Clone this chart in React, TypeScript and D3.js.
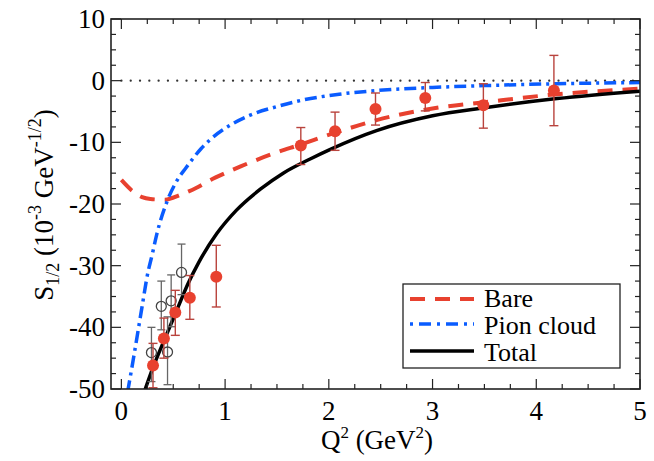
import React from "react";
import { scaleLinear, line, curveMonotoneX, range } from "d3";

// curves
const bareQ2 = [0, 0.1, 0.2, 0.28, 0.42, 0.57, 0.72, 0.86, 1.0, 1.15, 1.47, 1.72, 2.07, 2.46, 3.0, 3.5, 4.2, 5.0];
const bareS = [-16.1, -17.8, -18.9, -19.2, -19.3, -18.5, -17.4, -16.1, -15.0, -13.9, -11.8, -10.4, -8.4, -6.4, -4.5, -3.5, -2.2, -1.3];

const pionQ2 = [0.06, 0.12, 0.2, 0.25, 0.3, 0.34, 0.44, 0.54, 0.62, 0.77, 0.86, 1.05, 1.24, 1.5, 1.76, 2.1, 2.46, 3.0, 3.5, 4.2, 5.0];
const pionS = [-50.5, -44.7, -36.6, -31.6, -28.0, -25.0, -19.6, -16.1, -14.2, -11.0, -9.5, -7.2, -5.6, -4.2, -3.1, -2.2, -1.6, -1.1, -0.8, -0.5, -0.3];

const totalQ2 = [0.22, 0.31, 0.42, 0.54, 0.64, 0.745, 0.92, 1.11, 1.34, 1.56, 1.82, 2.02, 2.46, 3.0, 3.5, 4.2, 5.0];
const totalS = [-50.5, -46.3, -41.8, -37.0, -33.0, -29.5, -24.8, -21.0, -17.6, -15.0, -12.7, -11.1, -8.1, -5.7, -4.4, -2.9, -1.7];

// filled red points with error bars
const redQ2 = [0.305, 0.41, 0.52, 0.66, 0.915, 1.73, 2.06, 2.45, 2.93, 3.49, 4.17];
const redS = [-46.2, -41.8, -37.6, -35.2, -31.8, -10.5, -8.2, -4.6, -2.8, -4.0, -1.6];
const redHi = [-42.6, -38.5, -34.0, -31.6, -26.7, -7.6, -5.1, -2.0, -0.3, -0.5, 4.1];
const redLo = [-49.8, -45.0, -41.3, -38.7, -36.7, -13.6, -11.3, -7.2, -4.9, -7.7, -7.3];

// open circles
const openQ2 = [0.29, 0.385, 0.445, 0.48, 0.58];
const openS = [-44.1, -36.6, -44.0, -35.7, -31.1];
const openHi = [-40.0, -32.5, -38.3, -31.5, -26.5];
const openLo = [-48.8, -40.4, -49.3, -39.9, -34.7];

const xTicks = [0, 1, 2, 3, 4, 5];
const yTicks = [10, 0, -10, -20, -30, -40, -50];

const W = 654;
const H = 461;
const L = 111, R = 640, T = 19, B = 389;
const FONT = "Liberation Serif, Times New Roman, DejaVu Serif, serif";

const RED = "#e8412f";
const ERR_RED = "#b9433d";
const BLUE = "#0a5cff";

export default function App() {
  const x = scaleLinear().domain([-0.1, 5]).range([L, R]);
  const y = scaleLinear().domain([-50, 10]).range([B, T]);

  const mk = (xs: number[], ys: number[]) =>
    line<number>()
      .x((_, i) => x(xs[i]))
      .y((_, i) => y(ys[i]))
      .curve(curveMonotoneX)(xs) as string;

  const xMinor = range(0, 5.001, 0.25);
  const yMinor = range(-50, 10.001, 2.5);

  return (
    <svg width={W} height={H} style={{ position: "absolute", left: 0, top: 0, background: "#fff", fontFamily: FONT }}>
      <defs>
        <clipPath id="plot">
          <rect x={L} y={T} width={R - L} height={B - T} />
        </clipPath>
      </defs>

      {/* zero line */}
      <line x1={x(0)} x2={x(5)} y1={y(0)} y2={y(0)} stroke="#333" strokeWidth={2.2}
        strokeDasharray="0.1 9.2" strokeLinecap="round" />

      <g clipPath="url(#plot)" fill="none">
        <path d={mk(bareQ2, bareS)} stroke={RED} strokeWidth={4} strokeDasharray="15 10" />
        <path d={mk(pionQ2, pionS)} stroke={BLUE} strokeWidth={3.5} strokeDasharray="12 5 3 5" />
        <path d={mk(totalQ2, totalS)} stroke="#000" strokeWidth={3.5} />

        {/* open circles */}
        {openQ2.map((q, i) => (
          <g key={"o" + i} stroke="#666" strokeWidth={1.3}>
            <line x1={x(q)} x2={x(q)} y1={y(openHi[i])} y2={y(openLo[i])} />
            <line x1={x(q) - 4} x2={x(q) + 4} y1={y(openHi[i])} y2={y(openHi[i])} />
            <line x1={x(q) - 4} x2={x(q) + 4} y1={y(openLo[i])} y2={y(openLo[i])} />
            <circle cx={x(q)} cy={y(openS[i])} r={5} fill="none" stroke="#444" />
          </g>
        ))}

        {/* red points */}
        {redQ2.map((q, i) => (
          <g key={"r" + i}>
            <g stroke={ERR_RED} strokeWidth={1.4}>
              <line x1={x(q)} x2={x(q)} y1={y(redHi[i])} y2={y(redLo[i])} />
              <line x1={x(q) - 4.5} x2={x(q) + 4.5} y1={y(redHi[i])} y2={y(redHi[i])} />
              <line x1={x(q) - 4.5} x2={x(q) + 4.5} y1={y(redLo[i])} y2={y(redLo[i])} />
            </g>
            <circle cx={x(q)} cy={y(redS[i])} r={6} fill={RED} />
          </g>
        ))}
      </g>

      {/* frame and ticks */}
      <rect x={L} y={T} width={R - L} height={B - T} fill="none" stroke="#222" strokeWidth={1.6} />
      <g stroke="#222" strokeWidth={1.2}>
        {xMinor.map((v, i) => {
          const len = Math.abs(v - Math.round(v)) < 1e-6 ? 10 : 5;
          return (
            <g key={"xt" + i}>
              <line x1={x(v)} x2={x(v)} y1={B} y2={B - len} />
              <line x1={x(v)} x2={x(v)} y1={T} y2={T + len} />
            </g>
          );
        })}
        {yMinor.map((v, i) => {
          const len = Math.abs(v / 10 - Math.round(v / 10)) < 1e-6 ? 10 : 5;
          return (
            <g key={"yt" + i}>
              <line x1={L} x2={L + len} y1={y(v)} y2={y(v)} />
              <line x1={R} x2={R - len} y1={y(v)} y2={y(v)} />
            </g>
          );
        })}
      </g>

      {/* tick labels */}
      <g fill="#000" style={{ fontFamily: FONT, fontSize: 27 }}>
        {xTicks.map((v) => (
          <text key={"xl" + v} x={x(v)} y={420} textAnchor="middle">{v}</text>
        ))}
        {yTicks.map((v) => (
          <text key={"yl" + v} x={105} y={y(v) + 9} textAnchor="end">{v}</text>
        ))}
      </g>

      {/* axis titles */}
      <text x={377} y={449} textAnchor="middle" style={{ fontFamily: FONT, fontSize: 27 }}>
        Q<tspan fontSize={17} dy={-11}>2</tspan>
        <tspan dy={11}> (GeV</tspan>
        <tspan fontSize={17} dy={-11}>2</tspan>
        <tspan dy={11}>)</tspan>
      </text>
      <text transform="translate(53,205) rotate(-90)" textAnchor="middle" style={{ fontFamily: FONT, fontSize: 27 }}>
        S<tspan fontSize={18} dy={6}>1/2</tspan>
        <tspan dy={-6}> (10</tspan>
        <tspan fontSize={18} dy={-12}>-3</tspan>
        <tspan dy={12}> GeV</tspan>
        <tspan fontSize={18} dy={-12}>-1/2</tspan>
        <tspan dy={12}>)</tspan>
      </text>

      {/* legend */}
      <rect x={403} y={284} width={217} height={84} fill="#fff" stroke="#222" strokeWidth={1.3} />
      <g style={{ fontFamily: FONT, fontSize: 26 }}>
        <line x1={410} x2={474} y1={299} y2={299} stroke={RED} strokeWidth={4} strokeDasharray="15 10" />
        <text x={484} y={307}>Bare</text>
        <line x1={410} x2={474} y1={324} y2={324} stroke={BLUE} strokeWidth={3.5} strokeDasharray="3 6 12 6" />
        <text x={484} y={334}>Pion cloud</text>
        <line x1={410} x2={474} y1={351} y2={351} stroke="#000" strokeWidth={3.5} />
        <text x={484} y={361}>Total</text>
      </g>
    </svg>
  );
}
